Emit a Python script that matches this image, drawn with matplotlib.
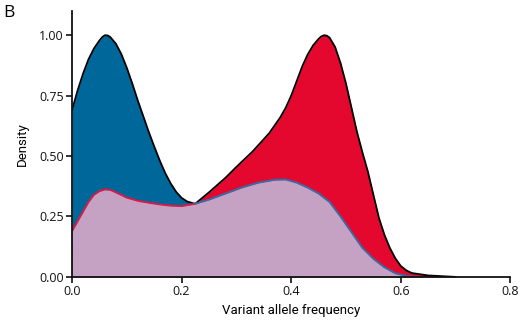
import matplotlib
matplotlib.use("Agg")
import matplotlib.pyplot as plt

# density curves (x = variant allele frequency)
blue_x = [0.00, 0.01, 0.02, 0.03, 0.04, 0.05, 0.055, 0.06, 0.065, 0.07, 0.08, 0.09, 0.10, 0.11,
          0.12, 0.13, 0.14, 0.15, 0.16, 0.17, 0.18, 0.19, 0.20, 0.21, 0.225, 0.24, 0.28, 0.32,
          0.38, 0.44, 0.50, 0.54, 0.58, 0.62]
blue_y = [0.69, 0.77, 0.84, 0.90, 0.945, 0.978, 0.992, 1.00, 0.999, 0.992, 0.965, 0.922, 0.865,
          0.80, 0.73, 0.665, 0.60, 0.54, 0.482, 0.43, 0.387, 0.352, 0.327, 0.312, 0.302, 0.27,
          0.22, 0.17, 0.12, 0.08, 0.04, 0.02, 0.005, 0.0]

red_x = [0.00, 0.05, 0.10, 0.15, 0.20, 0.225, 0.25, 0.28, 0.30, 0.33, 0.36, 0.38, 0.39, 0.40,
         0.41, 0.42, 0.43, 0.44, 0.45, 0.455, 0.46, 0.465, 0.47, 0.48, 0.49, 0.50, 0.51, 0.52,
         0.53, 0.54, 0.55, 0.56, 0.57, 0.58, 0.59, 0.60, 0.61, 0.62, 0.65, 0.70]
red_y = [0.12, 0.19, 0.23, 0.25, 0.275, 0.303, 0.35, 0.41, 0.455, 0.52, 0.595, 0.66, 0.70, 0.75,
         0.81, 0.87, 0.92, 0.958, 0.985, 0.995, 1.00, 0.998, 0.99, 0.952, 0.885, 0.80, 0.70, 0.60,
         0.515, 0.435, 0.34, 0.245, 0.175, 0.12, 0.077, 0.045, 0.027, 0.016, 0.006, 0.0]

purple_x = [0.00, 0.01, 0.02, 0.03, 0.04, 0.05, 0.06, 0.07, 0.08, 0.10, 0.12, 0.14, 0.16, 0.18,
            0.20, 0.21, 0.225, 0.25, 0.28, 0.31, 0.34, 0.37, 0.39, 0.41, 0.43, 0.45, 0.47,
            0.49, 0.51, 0.53, 0.55, 0.57, 0.59, 0.61, 0.63]
purple_y = [0.19, 0.23, 0.27, 0.31, 0.34, 0.355, 0.362, 0.36, 0.35, 0.328, 0.315, 0.307, 0.30,
            0.295, 0.293, 0.297, 0.303, 0.32, 0.345, 0.37, 0.39, 0.402, 0.403, 0.39, 0.37,
            0.345, 0.31, 0.25, 0.185, 0.12, 0.075, 0.04, 0.015, 0.004, 0.0]
split_x = 0.225  # where the purple outline changes from red to blue

x_ticks = [0.0, 0.2, 0.4, 0.6, 0.8]
x_tick_labels = ["0.0", "0.2", "0.4", "0.6", "0.8"]
y_ticks = [0.0, 0.25, 0.5, 0.75, 1.0]
y_tick_labels = ["0.00", "0.25", "0.50", "0.75", "1.00"]

BLUE = "#00679a"
RED = "#e4082e"
PURPLE = "#c5a1c4"

label_font = ["Roboto", "DejaVu Sans"]
tick_font = ["Open Sans", "DejaVu Sans"]

fig = plt.figure(figsize=(5.2, 3.25), dpi=100)
ax = fig.add_axes([0.1385, 0.148, 0.843, 0.818])

# draw order: blue, red, then the purple layer on top of both
ax.fill_between(blue_x, blue_y, 0, color=BLUE, lw=0, zorder=1)
ax.plot(blue_x, blue_y, color="black", lw=1.3, zorder=1.1)
ax.fill_between(red_x, red_y, 0, color=RED, lw=0, zorder=1.2)
ax.plot(red_x, red_y, color="black", lw=1.3, zorder=1.3)
ax.fill_between(purple_x, purple_y, 0, color=PURPLE, lw=0, zorder=1.4)

left = [i for i, v in enumerate(purple_x) if v <= split_x]
right = [i for i, v in enumerate(purple_x) if v >= split_x]
ax.plot([purple_x[i] for i in left], [purple_y[i] for i in left],
        color="#d81b47", lw=1.4, zorder=1.5)
ax.plot([purple_x[i] for i in right], [purple_y[i] for i in right],
        color="#3c69a3", lw=1.4, zorder=1.5)

ax.set_xlim(0, 0.8)
ax.set_ylim(0, 1.1)
ax.spines["top"].set_visible(False)
ax.spines["right"].set_visible(False)
for s in ["left", "bottom"]:
    ax.spines[s].set_linewidth(1.3)
    ax.spines[s].set_color("#111111")
    ax.spines[s].set_zorder(3)

ax.set_xticks(x_ticks)
ax.set_xticklabels(x_tick_labels, family=tick_font, fontsize=9)
ax.set_yticks(y_ticks)
ax.set_yticklabels(y_tick_labels, family=tick_font, fontsize=9)
ax.tick_params(direction="out", length=4, width=1.2, pad=2, colors="#111111")

ax.set_xlabel("Variant allele frequency", family=label_font, fontsize=9.5, labelpad=4)
ax.set_ylabel("Density", family=label_font, fontsize=9.5, labelpad=7)

fig.text(0.006, 0.985, "B", family=tick_font, fontsize=12.5, va="top", ha="left")

fig.savefig("out.png", dpi=100)
